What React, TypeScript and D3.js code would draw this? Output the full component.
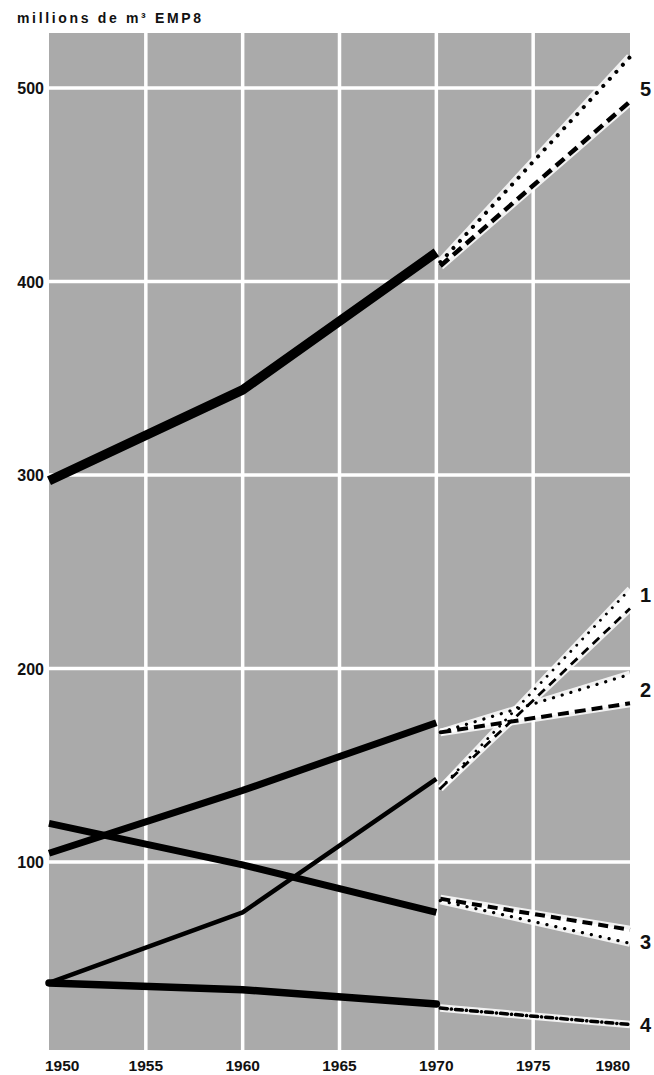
import React from "react";
import * as d3 from "d3";

// ---- data ----
const years = [1950, 1960, 1970];
const projYears = [1970, 1980];
const yTicks = [100, 200, 300, 400, 500];
const xTicks = [1950, 1955, 1960, 1965, 1970, 1975, 1980];
const xGrid = [1955, 1960, 1965, 1970, 1975];

const series5 = [297, 344, 415];
const series1 = [37.5, 74, 143];
const series2 = [104.5, 137, 172];
const series3 = [120, 98.5, 74];
const series4 = [37.5, 34, 26.6];

const proj5Dotted = [410, 516];
const proj5Dashed = [408, 493];
const proj1Dotted = [138, 241];
const proj1Dashed = [138, 231];
const proj2Dotted = [167, 197];
const proj2Dashed = [167, 182];
const proj3Dotted = [80, 58];
const proj3Dashed = [81, 65];
const proj4DashDot = [24.5, 16];

const labelNames = ["5", "1", "2", "3", "4"];
const labelValues = [500, 238, 189, 59, 16];

const title = "millions de m³ EMP8";

export default function App() {
  const W = 654;
  const H = 1075;
  const x = d3.scaleLinear().domain([1950, 1980]).range([49, 630]);
  const y = d3.scaleLinear().domain([0, 500]).range([1055.5, 88]);
  const plotTop = 33;
  const plotBottom = 1050;

  const solid = d3
    .line<number>()
    .x((_, i) => x(years[i]))
    .y((d) => y(d));
  const proj = d3
    .line<number>()
    .x((_, i) => x(projYears[i]) + (i === 0 ? 4 : 0))
    .y((d) => y(d));

  const wedge = (a: number[], b: number[]) => {
    const pts: [number, number][] = [
      [x(projYears[0]) + 4, y(a[0])],
      [x(projYears[1]), y(a[1])],
      [x(projYears[1]), y(b[1])],
      [x(projYears[0]) + 4, y(b[0])],
    ];
    return "M" + pts.map((p) => p.join(",")).join("L") + "Z";
  };

  const font = "'Liberation Sans', Arial, Helvetica, sans-serif";
  const gray = "#aaaaaa";

  const projLines: { d: number[]; w: number; dash: string; cap: string }[] = [
    { d: proj5Dotted, w: 4, dash: "0.1 9.5", cap: "round" },
    { d: proj5Dashed, w: 4.5, dash: "11 6", cap: "butt" },
    { d: proj1Dotted, w: 2.8, dash: "0.1 8.5", cap: "round" },
    { d: proj1Dashed, w: 2.8, dash: "9 6", cap: "butt" },
    { d: proj2Dotted, w: 3.2, dash: "0.1 9", cap: "round" },
    { d: proj2Dashed, w: 4, dash: "11 6", cap: "butt" },
    { d: proj3Dotted, w: 3.2, dash: "0.1 9", cap: "round" },
    { d: proj3Dashed, w: 4, dash: "10 6", cap: "butt" },
    { d: proj4DashDot, w: 3.5, dash: "7 4 0.1 4", cap: "round" },
  ];

  return (
    <svg
      width={W}
      height={H}
      style={{ position: "absolute", left: 0, top: 0, background: "#fff" }}
    >
      {/* title */}
      <text
        x={17}
        y={23}
        fontFamily={font}
        fontWeight="bold"
        fontSize={14}
        textLength={184}
        lengthAdjust="spacing"
        fill="#111"
      >
        {title}
      </text>

      {/* plot background */}
      <rect
        x={x(1950)}
        y={plotTop}
        width={x(1980) - x(1950)}
        height={plotBottom - plotTop}
        fill={gray}
      />

      {/* grid */}
      {yTicks.map((t) => (
        <line
          key={"h" + t}
          x1={x(1950)}
          x2={x(1980)}
          y1={y(t)}
          y2={y(t)}
          stroke="#fff"
          strokeWidth={3.5}
        />
      ))}
      {xGrid.map((t) => (
        <line
          key={"v" + t}
          x1={x(t)}
          x2={x(t)}
          y1={plotTop}
          y2={plotBottom}
          stroke="#fff"
          strokeWidth={3.5}
        />
      ))}

      {/* y tick labels */}
      {yTicks.map((t) => (
        <text
          key={"yl" + t}
          x={44}
          y={y(t) + 6}
          textAnchor="end"
          fontFamily={font}
          fontWeight="bold"
          fontSize={16}
          fill="#111"
        >
          {t}
        </text>
      ))}

      {/* x tick labels */}
      {xTicks.map((t, i) => (
        <text
          key={"xl" + t}
          x={i === 0 ? x(t) - 4 : x(t)}
          y={1070.5}
          textAnchor={i === 0 ? "start" : i === xTicks.length - 1 ? "end" : "middle"}
          fontFamily={font}
          fontWeight="bold"
          fontSize={15.5}
          fill="#111"
        >
          {t}
        </text>
      ))}

      {/* white wedges between projection variants */}
      <path d={wedge(proj5Dotted, proj5Dashed)} fill="#fff" />
      <path d={wedge(proj1Dotted, proj1Dashed)} fill="#fff" />
      <path d={wedge(proj2Dotted, proj2Dashed)} fill="#fff" />
      <path d={wedge(proj3Dotted, proj3Dashed)} fill="#fff" />

      {/* white halos */}
      {projLines.map((p, i) => (
        <path
          key={"halo" + i}
          d={proj(p.d) || ""}
          fill="none"
          stroke="#fff"
          strokeWidth={p.w + 4}
          strokeOpacity={0.85}
        />
      ))}

      {/* projections */}
      {projLines.map((p, i) => (
        <path
          key={"proj" + i}
          d={proj(p.d) || ""}
          fill="none"
          stroke="#000"
          strokeWidth={p.w}
          strokeDasharray={p.dash}
          strokeLinecap={p.cap as any}
        />
      ))}

      {/* historical lines */}
      <path d={solid(series4) || ""} fill="none" stroke="#000" strokeWidth={7.5} strokeLinecap="round" />
      <path d={solid(series3) || ""} fill="none" stroke="#000" strokeWidth={7} />
      <path d={solid(series2) || ""} fill="none" stroke="#000" strokeWidth={7} />
      <path d={solid(series1) || ""} fill="none" stroke="#000" strokeWidth={4.5} strokeLinejoin="round" />
      <path d={solid(series5) || ""} fill="none" stroke="#000" strokeWidth={9.5} strokeLinejoin="round" />

      {/* series labels */}
      {labelNames.map((n, i) => (
        <text
          key={"lab" + n}
          x={640}
          y={y(labelValues[i]) + 7.5}
          fontFamily={font}
          fontWeight="bold"
          fontSize={20}
          fill="#111"
        >
          {n}
        </text>
      ))}
    </svg>
  );
}
